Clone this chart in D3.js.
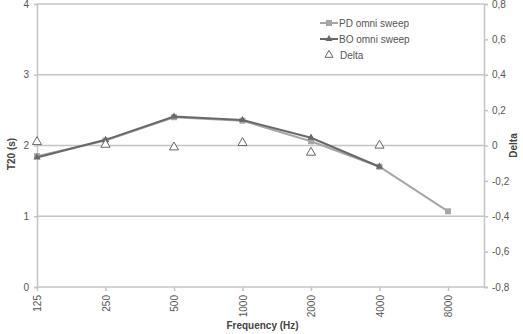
<!DOCTYPE html>
<html>
<head>
<meta charset="utf-8">
<script src="https://cdn.jsdelivr.net/npm/d3@7"></script>
<style>
  body { margin: 0; background: #fff; }
  svg { font-family: "Liberation Sans", Arial, sans-serif; }
</style>
</head>
<body>
<svg width="523" height="334"></svg>
<script>
// dados
const frequencias = ['125', '250', '500', '1000', '2000', '4000', '8000'];
const pdOmni = [1.85, 2.07, 2.40, 2.35, 2.06, 1.70, 1.07];
const boOmni = [1.83, 2.08, 2.41, 2.36, 2.11, 1.70, null];
const delta = [0.02, 0.005, -0.01, 0.015, -0.04, 0.0, null];
const ticksEsq = [0, 1, 2, 3, 4];
const ticksDir = [-0.8, -0.6, -0.4, -0.2, 0, 0.2, 0.4, 0.6, 0.8];

const svg = d3.select('svg');
const mEsq = 37, mDir = 484, mTopo = 4, mBase = 287;

// --- Escalas ---
const x = d3.scalePoint()
    .domain(frequencias)
    .range([mEsq, mEsq + 6 * 68.5]);

const y = d3.scaleLinear().domain([0, 4]).range([mBase, mTopo]);
const y2 = d3.scaleLinear().domain([-0.8, 0.8]).range([mBase, mTopo]);

const corGrade = '#c4c4c4';
const corTexto = '#555';
const corPD = '#a6a6a6';
const corBO = '#686868';

// grade horizontal
svg.append('g')
    .selectAll('line')
    .data(ticksEsq.slice(1))
    .join('line')
        .attr('x1', mEsq).attr('x2', mDir)
        .attr('y1', d => y(d)).attr('y2', d => y(d))
        .attr('stroke', corGrade)
        .attr('stroke-width', 1.5);

// --- Eixos ---
const eixoY = svg.append('g')
    .attr('transform', `translate(${mEsq},0)`)
    .call(d3.axisLeft(y).tickValues(ticksEsq).tickSize(3).tickFormat(d3.format('d')));

const eixoY2 = svg.append('g')
    .attr('transform', `translate(${mDir},0)`)
    .call(d3.axisRight(y2).tickValues(ticksDir).tickSize(4)
        .tickFormat(d => Math.abs(d) < 1e-9 ? '0' : d.toFixed(1).replace('.', ',')));

const eixoX = svg.append('g')
    .attr('transform', `translate(0,${mBase})`)
    .call(d3.axisBottom(x).tickSize(4));

eixoX.select('.domain').attr('d', `M${mEsq},0H${mDir}`);

[eixoY, eixoY2, eixoX].forEach(a => {
    a.select('.domain').attr('stroke', corGrade).attr('stroke-width', 1.5);
    a.selectAll('.tick line').attr('stroke', corGrade).attr('stroke-width', 1.5);
    a.selectAll('text').attr('fill', corTexto).style('font-size', '10px');
});

eixoY.selectAll('text').attr('x', -8);
eixoY2.selectAll('text').attr('x', 8);

eixoX.selectAll('text')
    .attr('transform', 'rotate(-90)')
    .attr('x', -8)
    .attr('y', 0)
    .attr('dy', '0.35em')
    .style('text-anchor', 'end');

// --- Linhas ---
const linha = d3.line()
    .defined(d => d.v != null)
    .x(d => x(d.f))
    .y(d => y(d.v));

const pdData = frequencias.map((f, i) => ({ f, v: pdOmni[i] }));
const boData = frequencias.map((f, i) => ({ f, v: boOmni[i] }));
const deltaData = frequencias.map((f, i) => ({ f, v: delta[i] })).filter(d => d.v != null);

svg.append('path')
    .datum(pdData)
    .attr('fill', 'none')
    .attr('stroke', corPD)
    .attr('stroke-width', 2)
    .attr('d', linha);

svg.append('g')
    .selectAll('rect')
    .data(pdData.filter(d => d.v != null))
    .join('rect')
        .attr('x', d => x(d.f) - 3)
        .attr('y', d => y(d.v) - 3)
        .attr('width', 6).attr('height', 6)
        .attr('fill', corPD);

svg.append('path')
    .datum(boData)
    .attr('fill', 'none')
    .attr('stroke', corBO)
    .attr('stroke-width', 2)
    .attr('d', linha);

const tri = d3.symbol().type(d3.symbolTriangle);

svg.append('g')
    .selectAll('path')
    .data(boData.filter(d => d.v != null))
    .join('path')
        .attr('transform', d => `translate(${x(d.f)},${y(d.v)})`)
        .attr('d', tri.size(22)())
        .attr('fill', corBO);

// delta (eixo secundário)
svg.append('g')
    .selectAll('path')
    .data(deltaData)
    .join('path')
        .attr('transform', d => `translate(${x(d.f)},${y2(d.v)})`)
        .attr('d', tri.size(36)())
        .attr('fill', '#fff')
        .attr('stroke', '#666')
        .attr('stroke-width', 1);

// --- Legenda ---
const legenda = [
    { nome: 'PD omni sweep', cor: corPD, tipo: 'sq' },
    { nome: 'BO omni sweep', cor: corBO, tipo: 'tri' },
    { nome: 'Delta', cor: '#666', tipo: 'open' }
];

const leg = svg.append('g')
    .selectAll('g')
    .data(legenda)
    .join('g')
    .attr('transform', (d, i) => `translate(320,${23 + i * 16})`);

leg.filter(d => d.tipo !== 'open').append('line')
    .attr('x1', 0).attr('x2', 18)
    .attr('stroke', d => d.cor)
    .attr('stroke-width', 2);

leg.filter(d => d.tipo === 'sq').append('rect')
    .attr('x', 6).attr('y', -3).attr('width', 6).attr('height', 6)
    .attr('fill', d => d.cor);

leg.filter(d => d.tipo === 'tri').append('path')
    .attr('transform', 'translate(9,0)')
    .attr('d', tri.size(22)())
    .attr('fill', d => d.cor);

leg.filter(d => d.tipo === 'open').append('path')
    .attr('transform', 'translate(9,0)')
    .attr('d', tri.size(28)())
    .attr('fill', '#fff')
    .attr('stroke', d => d.cor);

leg.append('text')
    .attr('x', d => d.tipo === 'open' ? 20 : 19)
    .attr('dy', '0.35em')
    .attr('fill', corTexto)
    .style('font-size', '10px')
    .text(d => d.nome);

// --- Títulos dos eixos ---
svg.append('text')
    .attr('transform', `translate(15,${y(1.88)}) rotate(-90)`)
    .attr('text-anchor', 'middle')
    .attr('fill', '#444')
    .style('font-size', '10px')
    .style('font-weight', 'bold')
    .text('T20 (s)');

svg.append('text')
    .attr('transform', `translate(517,${y2(0)}) rotate(-90)`)
    .attr('text-anchor', 'middle')
    .attr('fill', '#444')
    .style('font-size', '10px')
    .style('font-weight', 'bold')
    .text('Delta');

svg.append('text')
    .attr('x', (mEsq + mDir) / 2 + 2)
    .attr('y', 329)
    .attr('text-anchor', 'middle')
    .attr('fill', '#444')
    .style('font-size', '10px')
    .style('font-weight', 'bold')
    .text('Frequency (Hz)');
</script>
</body>
</html>
